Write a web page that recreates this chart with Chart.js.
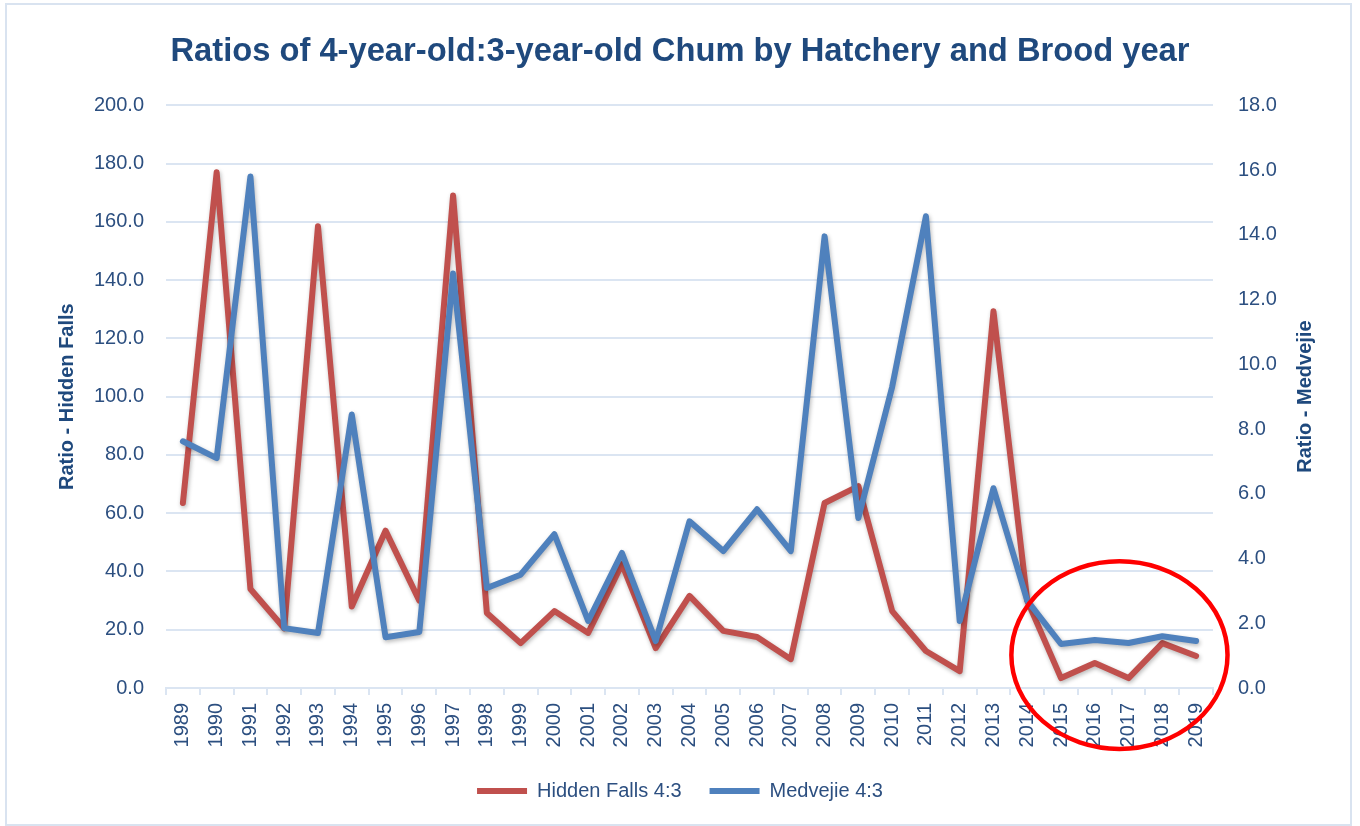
<!DOCTYPE html>
<html>
<head>
<meta charset="utf-8">
<script src="https://cdn.jsdelivr.net/npm/chart.js@4"></script>
<style>
  html, body { margin: 0; padding: 0; background: #ffffff; }
  #wrap { position: absolute; left: 0; top: 0; width: 1360px; height: 826px; }
  #frame { position: absolute; left: 5px; top: 3px; width: 1343px; height: 819px; border: 2px solid #d9e3f0; pointer-events: none; }
</style>
</head>
<body>
<div id="wrap"><canvas id="c" width="1360" height="826"></canvas></div>
<div id="frame"></div>
<script>
const years = ['1989','1990','1991','1992','1993','1994','1995','1996','1997','1998','1999','2000','2001','2002','2003','2004','2005','2006','2007','2008','2009','2010','2011','2012','2013','2014','2015','2016','2017','2018','2019'];
const hiddenFalls = [63.5, 177, 34, 20.5, 158.5, 28, 54, 30, 169, 25.7, 15.4, 26.4, 18.9, 42.5, 13.7, 31.6, 19.6, 17.5, 9.9, 63.5, 69.3, 26.4, 12.7, 5.8, 129.3, 30, 3.4, 8.6, 3.4, 15.4, 11];
const medvejie = [7.62, 7.1, 15.8, 1.85, 1.7, 8.45, 1.57, 1.73, 12.8, 3.09, 3.5, 4.75, 2.07, 4.17, 1.45, 5.15, 4.23, 5.52, 4.23, 13.95, 5.25, 9.3, 14.57, 2.07, 6.17, 2.7, 1.36, 1.48, 1.39, 1.6, 1.45];
const seriesNames = ['Hidden Falls 4:3', 'Medvejie 4:3'];
const titleText = 'Ratios of 4-year-old:3-year-old Chum by Hatchery and Brood year';
const leftAxisTitle = 'Ratio - Hidden Falls';
const rightAxisTitle = 'Ratio - Medvejie';

const FONT = '"Liberation Sans", Arial, sans-serif';
const TEXT = '#2c4f80';
const DARK = '#1f497d';
const GRID = '#dbe5f2';
const RED = '#c0504d';
const BLUE = '#4f81bd';

const shadowPlugin = {
  id: 'shadow',
  beforeDatasetDraw(chart) {
    const ctx = chart.ctx;
    ctx.save();
    ctx.shadowColor = 'rgba(0,0,0,0.28)';
    ctx.shadowBlur = 4;
    ctx.shadowOffsetX = 1;
    ctx.shadowOffsetY = 2;
  },
  afterDatasetDraw(chart) { chart.ctx.restore(); }
};

const rightTitlePlugin = {
  id: 'rightTitle',
  afterDraw(chart) {
    const ctx = chart.ctx;
    const ca = chart.chartArea;
    ctx.save();
    ctx.translate(1305, (ca.top + ca.bottom) / 2);
    ctx.rotate(-Math.PI / 2);
    ctx.font = 'bold 20px ' + FONT;
    ctx.fillStyle = DARK;
    ctx.textAlign = 'center';
    ctx.textBaseline = 'middle';
    ctx.fillText(rightAxisTitle, 0, 0);
    ctx.restore();
  }
};

const circlePlugin = {
  id: 'circle',
  afterDraw(chart) {
    const xs = chart.scales.x, ys = chart.scales.y;
    const cx = xs.getPixelForValue(27.73);
    const cw = xs.getPixelForValue(1) - xs.getPixelForValue(0);
    const cy = ys.getPixelForValue(11.3);
    const rx = cw * 3.2;
    const ry = ys.getPixelForValue(0) - ys.getPixelForValue(32.2);
    const ctx = chart.ctx;
    ctx.save();
    ctx.beginPath();
    ctx.ellipse(cx, cy, rx, ry, 0, 0, Math.PI * 2);
    ctx.strokeStyle = '#ff0000';
    ctx.lineWidth = 4.5;
    ctx.stroke();
    ctx.restore();
  }
};

new Chart(document.getElementById('c'), {
  type: 'line',
  data: {
    labels: years,
    datasets: [
      { label: seriesNames[0], data: hiddenFalls, yAxisID: 'y', borderColor: RED, backgroundColor: RED,
        borderWidth: 6, pointRadius: 0, pointStyle: 'line', tension: 0, borderJoinStyle: 'round', borderCapStyle: 'round', order: 1 },
      { label: seriesNames[1], data: medvejie, yAxisID: 'y1', borderColor: BLUE, backgroundColor: BLUE,
        borderWidth: 6, pointRadius: 0, pointStyle: 'line', tension: 0, borderJoinStyle: 'round', borderCapStyle: 'round', order: 0 }
    ]
  },
  options: {
    responsive: false,
    animation: false,
    devicePixelRatio: 1,
    layout: { padding: { top: 0, left: 0, right: 0, bottom: 15 } },
    plugins: {
      title: { display: true, text: titleText, color: DARK, font: { family: FONT, size: 32.7, weight: 'bold' }, padding: { top: 32, bottom: 34 } },
      legend: {
        position: 'bottom',
        labels: { usePointStyle: true, pointStyleWidth: 50, boxWidth: 50, boxHeight: 6, padding: 28, color: TEXT, font: { family: FONT, size: 20 },
          sort: (a, b) => a.datasetIndex - b.datasetIndex }
      },
      tooltip: { enabled: false }
    },
    scales: {
      x: {
        type: 'category',
        offset: true,
        grid: { offset: true, drawOnChartArea: false, drawTicks: true, tickLength: 7, color: GRID, lineWidth: 2 },
        border: { display: true, color: GRID, width: 2 },
        ticks: { autoSkip: false, minRotation: 90, maxRotation: 90, padding: 8, color: TEXT, font: { family: FONT, size: 20 } },
        afterFit(s) { s.height = 65; }
      },
      y: {
        position: 'left', min: 0, max: 200,
        ticks: { stepSize: 20, padding: 22, color: TEXT, font: { family: FONT, size: 20 }, callback: v => v.toFixed(1) },
        grid: { color: GRID, lineWidth: 2, drawTicks: false },
        border: { display: false },
        title: { display: true, text: leftAxisTitle, color: DARK, font: { family: FONT, size: 20, weight: 'bold' }, padding: { top: 55, bottom: 0 } },
        afterFit(s) { s.width = 166; }
      },
      y1: {
        position: 'right', min: 0, max: 18,
        ticks: { stepSize: 2, padding: 25, color: TEXT, font: { family: FONT, size: 20 }, callback: v => v.toFixed(1) },
        grid: { display: false, drawTicks: false },
        border: { display: false },
        afterFit(s) { s.width = 147; }
      }
    }
  },
  plugins: [shadowPlugin, rightTitlePlugin, circlePlugin]
});
</script>
</body>
</html>
